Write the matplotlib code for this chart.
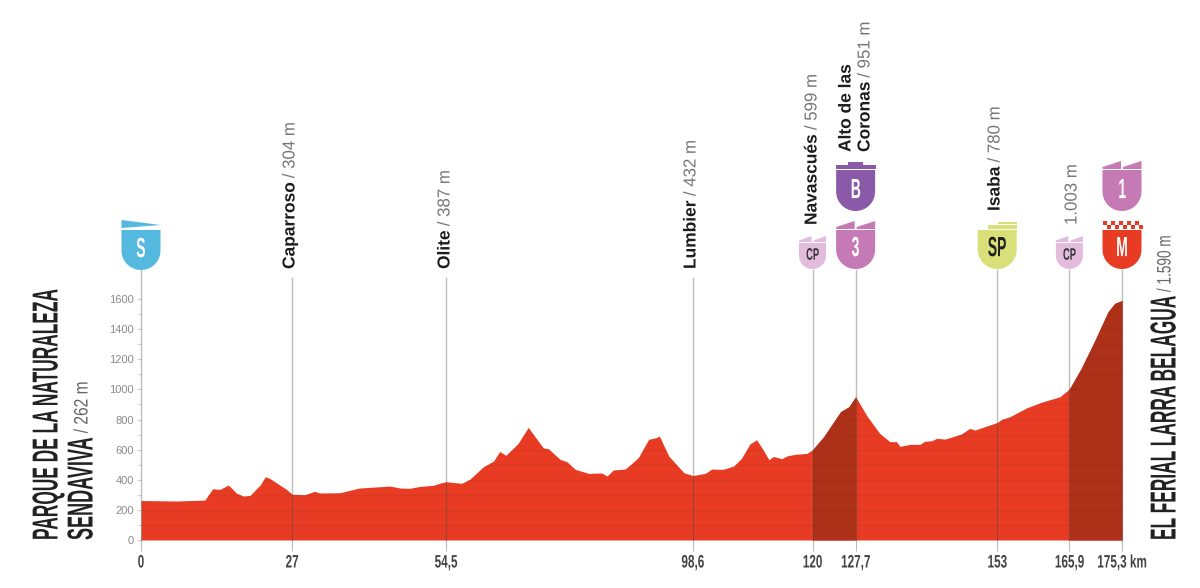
import numpy as np
import matplotlib
matplotlib.use('Agg')
import matplotlib.pyplot as plt
from matplotlib.patches import Polygon
from matplotlib.patheffects import AbstractPathEffect
from matplotlib.text import Text
from matplotlib.transforms import Affine2D, Bbox

# profile
km = [0, 6.4, 11.4, 12.8, 14.1, 15.6, 17.1, 18.3, 19.5, 20.7, 21.3, 22.2, 23, 24.8, 26, 27,
      29.3, 31, 32, 35.6, 39, 44.5, 46.3, 48, 49.9, 52.2, 53.7, 54.5, 57.3, 58.8, 61.2, 63,
      64.1, 65.2, 67.4, 69.2, 70.4, 71.9, 72.8, 74.9, 76.1, 77.6, 80, 82.3, 83.3, 84.4, 86.5,
      87.4, 88.9, 90.7, 92.2, 92.6, 94.3, 97, 98.6, 100.8, 102, 104, 105.9, 107.3, 108.8,
      110, 111.2, 112.2, 113, 114.5, 115.4, 116.9, 119, 120, 122, 125, 126.5, 127.7,
      129.8, 132, 133.8, 135, 135.6, 137.4, 139.2, 140, 141.3, 142.2, 143.7, 146.6, 148.1,
      149, 153, 153.8, 155.3, 158.3, 161.2, 164.2, 165.9, 168, 170.2, 172.8, 174, 175.3]
alt = [262, 259, 265, 340, 336, 365, 310, 292, 296, 343, 365, 420, 409, 365, 336, 304,
       301, 323, 312, 314, 345, 358, 345, 343, 356, 363, 380, 387, 376, 405, 487, 524,
       588, 562, 642, 748, 686, 611, 606, 535, 520, 469, 442, 445, 425, 465, 471,
       498, 549, 668, 681, 692, 558, 447, 428, 442, 471, 469, 491, 542, 637,
       666, 597, 533, 555, 540, 558, 569, 575, 599, 686, 852, 885, 951,
       819, 708, 653, 653, 622, 635, 635, 655, 659, 675, 670, 704, 741,
       730, 780, 801, 819, 878, 918, 951, 1003, 1139, 1305, 1515, 1571, 1590]

tick_km = [0, 27, 54.5, 98.6, 120, 127.7, 153, 165.9, 175.3]
tick_labels = ['0', '27', '54,5', '98,6', '120', '127,7', '153', '165,9', '175,3 km']
climbs = [(120, 127.7), (165.9, 175.3)]

RED = '#e73c23'
DARK = '#ad3118'
SANS = ['Liberation Sans', 'DejaVu Sans']

km = np.array(km)
alt = np.array(alt)


# no condensed font installed, so squeeze the glyphs along the baseline
class Squeeze(AbstractPathEffect):
    def __init__(self, sx, mid):
        super().__init__()
        self.sx = sx
        self.mid = mid

    def draw_path(self, renderer, gc, tpath, affine, rgbFace=None):
        c = tpath.get_extents().intervalx.mean() if self.mid else 0
        local = Affine2D().translate(-c, 0).scale(self.sx, 1).translate(c, 0)
        renderer.draw_path(gc, tpath, local + affine, rgbFace)


class Narrow(Text):
    def __init__(self, x, y, s, sx=1, **kw):
        super().__init__(x, y, s, **kw)
        self.sx = sx
        self.set_path_effects([Squeeze(sx, self.get_rotation() == 0)])

    def get_window_extent(self, renderer=None, dpi=None):
        b = super().get_window_extent(renderer, dpi)
        if self.get_rotation() == 0:
            c = (b.x0 + b.x1) / 2
            return Bbox([[c - b.width * self.sx / 2, b.y0], [c + b.width * self.sx / 2, b.y1]])
        return Bbox([[b.x0, b.y0], [b.x1, b.y0 + b.height * self.sx]])


fig = plt.figure(figsize=(12, 5.88), dpi=100)
ax = fig.add_axes([141 / 1200, 48 / 588, 981 / 1200, 241 / 588])
ax.set_xlim(0, 175.3)
ax.set_ylim(0, 1600)

poly = ax.fill_between(km, 0, alt, color=RED, lw=0, zorder=2)
for a, b in climbs:
    m = (km >= a) & (km <= b)
    ax.fill_between(km[m], 0, alt[m], color=DARK, lw=0, zorder=2.1)
# faint bands in the fill
bands = ax.hlines(np.arange(100, 1600, 100), 0, 175.3, color='k', alpha=0.05, lw=1, zorder=2.2)
bands.set_clip_path(poly.get_paths()[0], ax.transData)

for s in ['top', 'right', 'bottom', 'left']:
    ax.spines[s].set_visible(False)

# guide lines up to the signs
for k in tick_km:
    top = 270 if k in (0, 120, 127.7, 153, 165.9, 175.3) else 278
    ax.axvline(k, 0, (540 - top) / 241, color='#444444', alpha=0.35, lw=1, clip_on=False, zorder=3)

ax.set_yticks(np.arange(0, 1601, 200))
ax.set_yticks(np.arange(100, 1600, 200), minor=True)
ax.tick_params(axis='y', which='both', length=3, color='#cccccc', pad=2, labelsize=8, labelcolor='#8a8a8a')
ax.set_xticks(tick_km, [''] * len(tick_km))
ax.tick_params(axis='x', length=8, color='#bbbbbb')
for t in ax.get_yticklabels():
    t.set_family(SANS)

# overlay in pixels for the signs and the texts
ov = fig.add_axes([0, 0, 1, 1], zorder=5)
ov.set_xlim(0, 1200)
ov.set_ylim(588, 0)
ov.axis('off')
ov.patch.set_alpha(0)


def px(k):
    return 141 + k * 981 / 175.3


for k, lab in zip(tick_km, tick_labels):
    ov.add_artist(Narrow(px(k), 563, lab, sx=0.65, ha='center', va='center', fontsize=13,
                         family=SANS, fontweight='bold', color='#444444'))


def shield(cx, bottom, w, top, color, label, txt='white', size=20, sx=0.5):
    r = w / 2
    a = np.linspace(np.pi, 0, 40)
    xs = cx + r * np.cos(a)
    ys = bottom - r + r * np.sin(a)
    pts = [(cx - r, top)] + list(zip(xs, ys)) + [(cx + r, top)]
    ov.add_patch(Polygon(pts, closed=True, fc=color, ec='none'))
    ov.add_artist(Narrow(cx, bottom - r * 1.02, label, sx=sx, color=txt, ha='center', va='center',
                         fontsize=size, family=SANS, fontweight='bold'))


def teeth(cx, y, w, h, color):
    r = w / 2
    ov.add_patch(Polygon([(cx - r, y), (cx - r, y - h * 0.25), (cx - 1, y - h), (cx - 1, y)], fc=color, ec='none'))
    ov.add_patch(Polygon([(cx + 1, y), (cx + 1, y - h * 0.25), (cx + r, y - h), (cx + r, y)], fc=color, ec='none'))


PINK = '#c57ab5'
LIGHT = '#e3bbdd'
x120, x127, x153, x165, x175 = px(120), px(127.7), px(153), px(165.9), px(175.3)

# start
shield(px(0), 270, 39, 230, '#55b8de', 'S')
ov.add_patch(Polygon([(px(0) - 19.5, 220), (px(0) + 19.5, 225), (px(0) - 19.5, 228)], fc='#55b8de', ec='none'))
# sprints and points
shield(x120, 269, 27, 243, LIGHT, 'CP', txt='#333333', size=12, sx=0.56)
teeth(x120, 242, 27, 6, LIGHT)
shield(x165, 269, 27, 243, LIGHT, 'CP', txt='#333333', size=12, sx=0.56)
teeth(x165, 242, 27, 6, LIGHT)
shield(x127, 269, 39, 230, PINK, '3')
teeth(x127, 229, 39, 8, PINK)
shield(x127, 211, 39, 170, '#8a5aa8', 'B')
ov.add_patch(Polygon([(x127 - 20, 169), (x127 - 20, 165), (x127 - 8, 165), (x127 - 8, 162), (x127 + 7, 162),
                      (x127 + 7, 165), (x127 + 20, 165), (x127 + 20, 169)], fc='#8a5aa8', ec='none'))
shield(x175, 211, 39, 170, PINK, '1')
teeth(x175, 169, 39, 8, PINK)
shield(x153, 269, 39, 232, '#d9e07a', 'SP', txt='#222222')
for yy, dx in [(230.5, 0), (228, 10), (225.5, 10), (222.5, 20)]:
    ov.plot([x153 - 19.5 + dx, x153 + 19.5], [yy, yy], color='#d9e07a', lw=1.5, solid_capstyle='butt')
# goal with checker row
shield(x175, 269, 39, 230, RED, 'M')
for row, yy in enumerate([221, 225]):
    for c in range(5):
        xx = x175 - 19.5 + c * 8 + (4 if row else 0)
        ov.fill([xx, xx + 4, xx + 4, xx], [yy, yy, yy + 4, yy + 4], color=RED, lw=0)

renderer = fig.canvas.get_renderer()


def stack(x, bottom, parts, gap=4):
    # parts stacked upwards along a rotated line
    y = bottom
    for text, bold, size, sx, color in parts:
        t = Narrow(x, y, text, sx=sx, rotation=90, ha='center', va='bottom', fontsize=size, family=SANS,
                   fontweight='bold' if bold else 'normal', color=color)
        ov.add_artist(t)
        y = 588 - t.get_window_extent(renderer).y1 - gap


def label(x, bottom, name, height):
    parts = [(name, True, 12.5, 1, '#1d1d1d')] if name else []
    if height:
        parts.append((height, False, 12.5, 0.97, '#777777'))
    stack(x, bottom, parts)


label(290, 269, 'Caparroso', '/ 304 m')
label(445, 269, 'Olite', '/ 387 m')
label(691, 269, 'Lumbier', '/ 432 m')
label(812, 225, 'Navascués', '/ 599 m')
label(846, 152, 'Alto de las', None)
label(865, 152, 'Coronas', '/ 951 m')
label(995, 211, 'Isaba', '/ 780 m')
label(1072, 225, None, '1.003 m')

stack(48, 540, [('PARQUE DE LA NATURALEZA', True, 26, 0.48, '#222222')])
stack(83, 540, [('SENDAVIVA', True, 26, 0.5, '#222222'), ('/ 262 m', False, 14, 0.8, '#666666')])
stack(1166, 540, [('EL FERIAL LARRA BELAGUA', True, 26, 0.48, '#222222'), ('/ 1.590 m', False, 14, 0.7, '#666666')])

fig.savefig('out.png', dpi=100)
